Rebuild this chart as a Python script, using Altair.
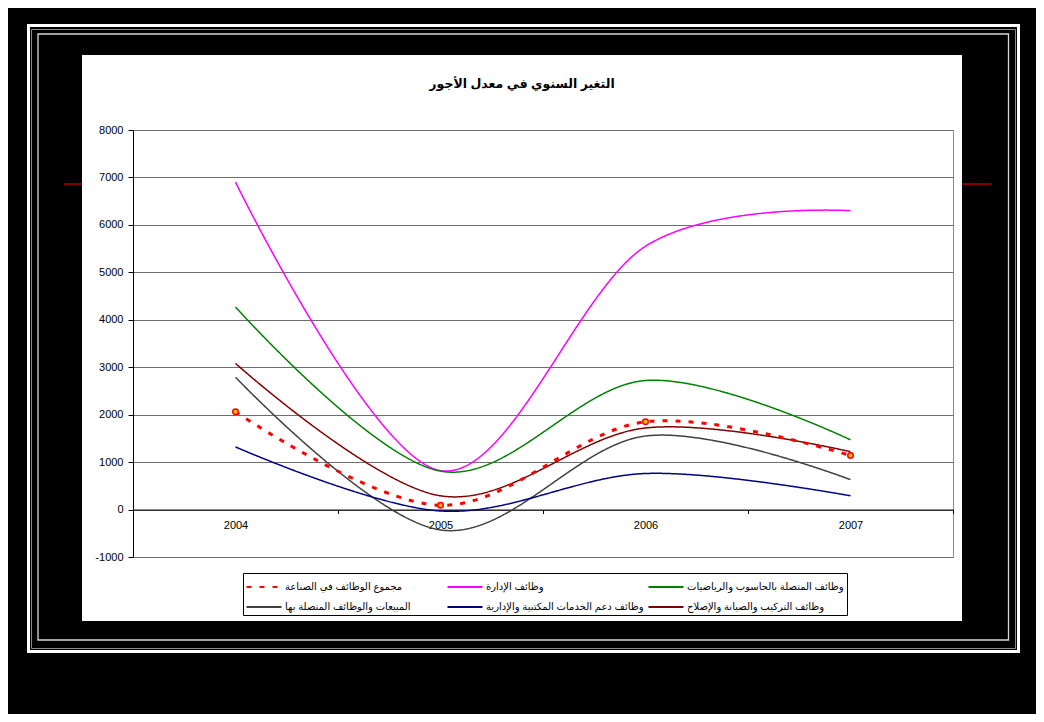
import altair as alt
import pandas as pd

# ---------------- data ----------------
years = [2004, 2005, 2006, 2007]
series_names = [
    "مجموع الوظائف في الصناعة",
    "وظائف الإدارة",
    "وظائف المتصلة بالحاسوب والرياضيات",
    "المبيعات والوظائف المتصلة بها",
    "وظائف دعم الخدمات المكتبية والإدارية",
    "وظائف التركيب والصيانة والإصلاح",
]
total_industry = [2060, 90, 1850, 1140]
management = [6900, 820, 5550, 6300]
computer_math = [4270, 810, 2720, 1470]
sales = [2790, -430, 1550, 630]
office_admin = [1320, -30, 760, 290]
install_repair = [3080, 290, 1720, 1220]
series_values = [total_industry, management, computer_math, sales, office_admin, install_repair]

colors = ["#FF0000", "#FF00FF", "#008000", "#404040", "#000080", "#800000"]
dashes = [[5, 8], [1, 0], [1, 0], [1, 0], [1, 0], [1, 0]]
y_ticks = list(range(-1000, 9000, 1000))
x_ticks = [2003.5, 2004, 2004.5, 2005, 2005.5, 2006, 2006.5, 2007, 2007.5]
title_text = "التغير السنوي في معدل الأجور"

FONT = "Arial, Liberation Sans, DejaVu Sans, sans-serif"

rows = []
for name, vals in zip(series_names, series_values):
    for yr, v in zip(years, vals):
        rows.append({"series": name, "year": yr, "value": v})
df = pd.DataFrame(rows)
one = pd.DataFrame({"k": [0]})

W, H = 820, 427
zero_offset = -H / 9.0

# ---------------- decoration (frame) ----------------
black_frame = alt.Chart(one).mark_rect(fillOpacity=0, stroke="black", strokeWidth=200).encode(
    x=alt.value(-151), x2=alt.value(929), y=alt.value(-175), y2=alt.value(591)
)
outer_white = alt.Chart(one).mark_rect(fillOpacity=0, stroke="white", strokeWidth=3).encode(
    x=alt.value(-104.5), x2=alt.value(885.5), y=alt.value(-104.5), y2=alt.value(521.5)
)
gray_line = alt.Chart(one).mark_rect(fillOpacity=0, stroke="#8a8a8a", strokeWidth=1).encode(
    x=alt.value(-101.5), x2=alt.value(882.5), y=alt.value(-100.5), y2=alt.value(518.5)
)
inner_line = alt.Chart(one).mark_rect(fillOpacity=0, stroke="#d8d8d8", strokeWidth=1.3).encode(
    x=alt.value(-95), x2=alt.value(875.5), y=alt.value(-96), y2=alt.value(510)
)
red_left = alt.Chart(one).mark_rule(stroke="#B00000", strokeWidth=1.5).encode(
    x=alt.value(-69), x2=alt.value(-51), y=alt.value(54)
)
red_right = alt.Chart(one).mark_rule(stroke="#B00000", strokeWidth=1.5).encode(
    x=alt.value(829), x2=alt.value(858), y=alt.value(54)
)
title_mark = alt.Chart(one).mark_text(
    font=FONT, fontSize=12.5, fontWeight="bold", color="black", align="center", baseline="alphabetic"
).encode(x=alt.value(389), y=alt.value(-42), text=alt.value(title_text))

# ---------------- chart ----------------
legend = alt.Legend(
    orient="none", legendX=110, legendY=443, direction="horizontal", columns=3,
    title=None, symbolType="M-1.75,0H1.75", symbolSize=400, symbolStrokeWidth=2,
    symbolOffset=7, labelFont=FONT, labelFontSize=10, labelColor="black", labelLimit=400,
    fillColor="white", strokeColor="black", padding=3, rowPadding=4,
    columnPadding=0, gridAlign="all", labelOffset=10,
)

x_enc = alt.X(
    "year:Q",
    scale=alt.Scale(domain=[2003.5, 2007.5], nice=False, zero=False),
    axis=alt.Axis(
        values=x_ticks, title=None, grid=False, offset=zero_offset,
        labelExpr="datum.value % 1 === 0 ? '' + datum.value : ''",
        tickOpacity={"condition": {"test": "datum.value % 1 === 0", "value": 0}, "value": 1},
        tickSize=4, tickColor="black", domainColor="black", domainWidth=1,
        labelFont=FONT, labelFontSize=11, labelColor="black", labelPadding=6,
        labelFlush=False, labelOverlap=False, labelBound=False,
    ),
)
y_enc = alt.Y(
    "value:Q",
    scale=alt.Scale(domain=[-1000, 8000], nice=False, zero=False),
    axis=alt.Axis(
        values=y_ticks, title=None, grid=True, gridColor="#6e6e6e", gridWidth=1,
        labelExpr="datum.value < 0 ? '-' + abs(datum.value) : '' + datum.value",
        tickSize=5, tickColor="black", domainColor="black", domainWidth=1,
        labelFont=FONT, labelFontSize=11, labelColor="black", labelPadding=5,
        labelOverlap=False,
    ),
)
color_enc = alt.Color("series:N", scale=alt.Scale(domain=series_names, range=colors), legend=legend)
dash_enc = alt.StrokeDash("series:N", scale=alt.Scale(domain=series_names, range=dashes), legend=legend)

solid_lines = alt.Chart(df).mark_line(interpolate="cardinal", strokeWidth=1.5).encode(
    x=x_enc, y=y_enc, color=color_enc, strokeDash=dash_enc
).transform_filter(alt.datum.series != series_names[0])

dashed_line = alt.Chart(df).mark_line(interpolate="cardinal", strokeWidth=3, strokeCap="butt").encode(
    x=x_enc, y=y_enc, color=color_enc, strokeDash=dash_enc
).transform_filter(alt.datum.series == series_names[0])

markers = alt.Chart(df).mark_point(
    shape="circle", size=30, filled=True, fill="#FFC000", stroke="#FF0000", strokeWidth=1.5, opacity=1
).encode(x=x_enc, y=y_enc).transform_filter(alt.datum.series == series_names[0])

chart = alt.layer(
    black_frame, outer_white, gray_line, inner_line, red_left, red_right, title_mark,
    solid_lines, dashed_line, markers,
).properties(
    width=W, height=H,
    padding={"left": 125, "top": 122, "right": 83, "bottom": 157},
    autosize=alt.AutoSizeParams(type="none"),
    background="white",
).configure_view(stroke="#8a8a8a", strokeWidth=1)

chart.save("out.html", embed_options={"renderer": "svg", "actions": False})
